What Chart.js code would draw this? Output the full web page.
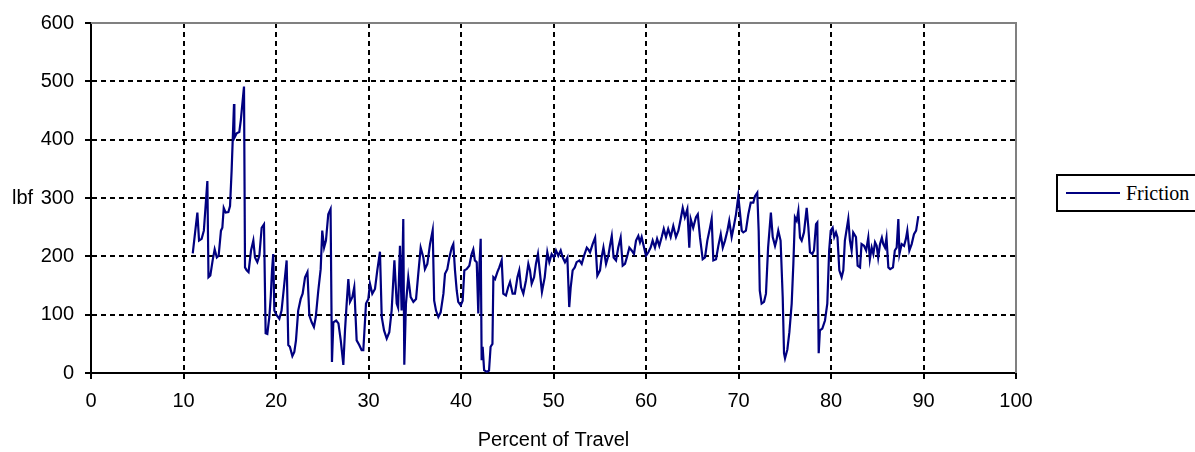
<!DOCTYPE html>
<html>
<head>
<meta charset="utf-8">
<script src="https://cdn.jsdelivr.net/npm/chart.js@4/dist/chart.umd.min.js"></script>
<style>
  body { margin: 0; background: #fff; overflow: hidden; }
  #wrap { position: relative; width: 1195px; height: 452px; }
  #legend {
    position: absolute; left: 1056px; top: 174px; width: 170px; height: 38px;
    box-sizing: border-box; border: 2px solid #000; background: #fff;
    font: 20px "Liberation Serif", "Times New Roman", serif; color: #000;
    display: flex; align-items: center; white-space: nowrap;
  }
  #legend .swatch { display: inline-block; width: 54px; height: 2px; background: #000080; margin: 0 6px 0 8px; }
</style>
</head>
<body>
<div id="wrap">
  <canvas id="friction" width="1195" height="452"></canvas>
  <div id="legend"><span class="swatch"></span>Friction</div>
</div>
<script>
// percent of travel (x) and friction force in lbf (y)
var travel = [
  11.0, 11.24, 11.5, 11.68, 11.96, 12.2, 12.58, 12.7, 12.9, 13.15, 13.37, 13.6, 13.8, 14.05, 14.2, 14.35, 14.56, 14.85,
  15.03, 15.2, 15.46, 15.5, 15.75, 16.03, 16.2, 16.54, 16.65, 16.83, 17.03, 17.3, 17.55, 17.73, 17.98, 18.2, 18.45, 18.7,
  18.88, 19.06, 19.28, 19.43, 19.57, 19.7, 19.82, 20.07, 20.36, 20.6, 20.86, 21.15, 21.33, 21.5, 21.77, 21.98, 22.16, 22.4,
  22.67, 22.88, 23.14, 23.4, 23.6, 23.86, 24.1, 24.3, 24.57, 24.83, 25.0, 25.2, 25.4, 25.65, 25.9, 26.05, 26.2, 26.5,
  26.75, 27.0, 27.28, 27.46, 27.64, 27.82, 28.0, 28.25, 28.46, 28.72, 29.0, 29.26, 29.44, 29.73, 29.98, 30.16, 30.41, 30.7,
  30.95, 31.24, 31.43, 31.68, 31.97, 32.25, 32.5, 32.8, 33.05, 33.2, 33.4, 33.58, 33.76, 33.87, 34.05, 34.3, 34.56, 34.85,
  35.14, 35.38, 35.64, 35.93, 36.1, 36.36, 36.65, 36.94, 37.1, 37.3, 37.55, 37.8, 38.1, 38.27, 38.52, 38.74, 39.0, 39.17,
  39.35, 39.54, 39.7, 39.97, 40.18, 40.36, 40.6, 40.9, 41.15, 41.33, 41.5, 41.7, 41.87, 42.0, 42.13, 42.23, 42.34, 42.5,
  42.78, 43.03, 43.2, 43.4, 43.5, 43.68, 43.93, 44.14, 44.4, 44.57, 44.86, 45.1, 45.3, 45.58, 45.83, 46.1, 46.3, 46.49,
  46.74, 47.03, 47.28, 47.46, 47.64, 47.9, 48.1, 48.32, 48.75, 49.05, 49.33, 49.55, 49.8, 50.05, 50.27, 50.52, 50.78, 51.0,
  51.24, 51.5, 51.7, 51.86, 52.07, 52.3, 52.5, 52.8, 53.05, 53.3, 53.6, 53.76, 53.95, 54.23, 54.5, 54.74, 55.03, 55.2,
  55.4, 55.68, 55.93, 56.1, 56.3, 56.5, 56.76, 57.0, 57.26, 57.48, 57.73, 57.98, 58.2, 58.45, 58.7, 58.92, 59.17, 59.35,
  59.53, 59.7, 60.0, 60.25, 60.5, 60.72, 60.97, 61.2, 61.44, 61.7, 61.92, 62.16, 62.4, 62.67, 62.95, 63.24, 63.5, 63.75,
  63.97, 64.2, 64.47, 64.68, 64.83, 65.1, 65.4, 65.6, 65.84, 66.13, 66.38, 66.63, 66.92, 67.1, 67.28, 67.57, 67.82, 68.08,
  68.3, 68.54, 68.8, 69.0, 69.26, 69.5, 69.73, 69.98, 70.16, 70.35, 70.52, 70.8, 71.06, 71.32, 71.6, 71.78, 72.03, 72.18,
  72.3, 72.5, 72.76, 72.97, 73.2, 73.5, 73.7, 73.95, 74.1, 74.3, 74.55, 74.78, 74.92, 75.03, 75.28, 75.5, 75.75, 75.93,
  76.1, 76.29, 76.47, 76.65, 76.83, 77.08, 77.37, 77.55, 77.73, 77.98, 78.16, 78.38, 78.52, 78.67, 78.8, 79.06, 79.35, 79.6,
  79.8, 79.97, 80.18, 80.35, 80.54, 80.7, 80.9, 81.15, 81.33, 81.5, 81.87, 82.05, 82.23, 82.4, 82.7, 82.88, 83.14, 83.3,
  83.57, 83.8, 84.03, 84.2, 84.4, 84.58, 84.76, 84.94, 85.1, 85.3, 85.5, 85.65, 85.84, 86.0, 86.2, 86.4, 86.7, 86.9,
  87.1, 87.28, 87.4, 87.64, 87.9, 88.1, 88.25, 88.47, 88.72, 88.97, 89.2, 89.44
];
var friction = [
  205, 239, 275, 227, 230, 244, 329, 164, 167, 193, 212, 198, 201, 244, 249, 283, 275, 276,
  286, 346, 461, 403, 411, 413, 434, 491, 181, 176, 173, 210, 227, 198, 190, 201, 249, 255,
  68, 67, 96, 130, 176, 204, 107, 99, 93, 107, 147, 193, 48, 45, 29, 36, 56, 107,
  127, 136, 164, 173, 99, 87, 79, 96, 141, 178, 244, 215, 227, 272, 281, 19, 87, 90,
  85, 56, 14, 73, 119, 161, 122, 130, 147, 56, 48, 39, 39, 119, 127, 153, 136, 144,
  176, 208, 96, 73, 59, 70, 107, 193, 119, 112, 218, 107, 264, 14, 119, 164, 130, 122,
  127, 170, 215, 198, 178, 187, 221, 245, 124, 107, 96, 104, 136, 170, 178, 198, 215, 221,
  176, 141, 122, 116, 124, 176, 178, 184, 204, 212, 193, 190, 102, 187, 230, 22, 45, 5,
  2, 4, 45, 50, 164, 161, 173, 181, 193, 136, 133, 147, 156, 136, 136, 164, 176, 147,
  136, 159, 187, 176, 153, 164, 187, 204, 139, 164, 207, 190, 204, 198, 210, 201, 210, 198,
  190, 198, 113, 147, 176, 181, 190, 193, 187, 201, 215, 212, 207, 221, 232, 167, 176, 198,
  215, 187, 201, 218, 235, 198, 193, 215, 232, 184, 187, 201, 215, 210, 204, 227, 235, 224,
  233, 221, 201, 207, 215, 227, 215, 230, 218, 233, 247, 233, 247, 233, 252, 233, 244, 264,
  283, 267, 281, 215, 264, 249, 267, 272, 232, 195, 198, 227, 249, 264, 193, 195, 218, 238,
  215, 227, 244, 261, 233, 252, 272, 303, 275, 244, 241, 244, 272, 292, 292, 303, 309, 244,
  141, 119, 122, 136, 215, 275, 233, 218, 227, 244, 227, 130, 34, 25, 40, 70, 119, 187,
  267, 261, 278, 232, 227, 241, 283, 250, 207, 204, 210, 255, 258, 34, 73, 76, 90, 119,
  210, 244, 249, 233, 241, 233, 176, 164, 176, 227, 264, 227, 210, 241, 233, 184, 181, 221,
  218, 210, 232, 195, 215, 204, 224, 218, 198, 221, 232, 221, 215, 232, 181, 178, 181, 210,
  215, 264, 204, 221, 218, 230, 244, 210, 221, 238, 244, 269
];
var xTicks = [0, 10, 20, 30, 40, 50, 60, 70, 80, 90, 100];
var yTicks = [0, 100, 200, 300, 400, 500, 600];

var points = travel.map(function(t, i) { return {x: t, y: friction[i]}; });

// plot frame (gray top/right edge) and the horizontal "lbf" label
var frame = {
  id: 'frame',
  beforeDatasetsDraw: function(chart) {
    var a = chart.chartArea, c = chart.ctx;
    c.save();
    c.strokeStyle = '#808080';
    c.lineWidth = 2;
    c.beginPath();
    c.moveTo(a.left, a.top);
    c.lineTo(a.right, a.top);
    c.lineTo(a.right, a.bottom);
    c.stroke();
    c.restore();
  },
  afterDraw: function(chart) {
    var c = chart.ctx;
    c.save();
    c.font = '20px "Liberation Sans", Arial, sans-serif';
    c.fillStyle = '#000';
    c.textAlign = 'left';
    c.textBaseline = 'middle';
    c.fillText('lbf', 12, chart.scales.y.getPixelForValue(300));
    c.restore();
  }
};

Chart.defaults.font.family = '"Liberation Sans", Arial, sans-serif';
Chart.defaults.font.size = 20;
Chart.defaults.color = '#000';

var chart = new Chart('friction', {
  type: 'line',
  data: {
    datasets: [{
      label: 'Friction',
      data: points,
      borderColor: '#000080',
      backgroundColor: '#000080',
      borderWidth: 2.2,
      pointRadius: 0,
      fill: false,
      tension: 0
    }]
  },
  options: {
    responsive: false,
    animation: false,
    devicePixelRatio: 1,
    layout: { padding: { left: 0, top: 21, right: 179, bottom: 0 } },
    plugins: { legend: { display: false }, tooltip: { enabled: false } },
    scales: {
      x: {
        type: 'linear',
        min: 0, max: 100,
        afterBuildTicks: function(s) { s.ticks = xTicks.map(function(v) { return {value: v}; }); },
        afterFit: function(s) { s.height = 79; },
        ticks: { padding: 10, maxRotation: 0, autoSkip: false },
        grid: {
          color: function(ctx) { return (ctx.tick && (ctx.tick.value === 0 || ctx.tick.value === 100)) ? 'rgba(0,0,0,0)' : '#000'; },
          lineWidth: 2,
          tickColor: '#000',
          tickLength: 6,
          tickWidth: 2
        },
        border: { display: true, color: '#000', width: 2, dash: [5, 4] },
        title: { display: true, text: 'Percent of Travel', padding: { top: 0, bottom: 0 } }
      },
      y: {
        min: 0, max: 600,
        afterBuildTicks: function(s) { s.ticks = yTicks.map(function(v) { return {value: v}; }); },
        afterFit: function(s) { s.width = 91; },
        ticks: { padding: 11, autoSkip: false },
        grid: {
          color: function(ctx) { return (ctx.tick && (ctx.tick.value === 0 || ctx.tick.value === 600)) ? 'rgba(0,0,0,0)' : '#000'; },
          lineWidth: 2,
          tickColor: '#000',
          tickLength: 6,
          tickWidth: 2
        },
        border: { display: true, color: '#000', width: 2, dash: [5, 4] }
      }
    }
  },
  plugins: [frame]
});
</script>
</body>
</html>
